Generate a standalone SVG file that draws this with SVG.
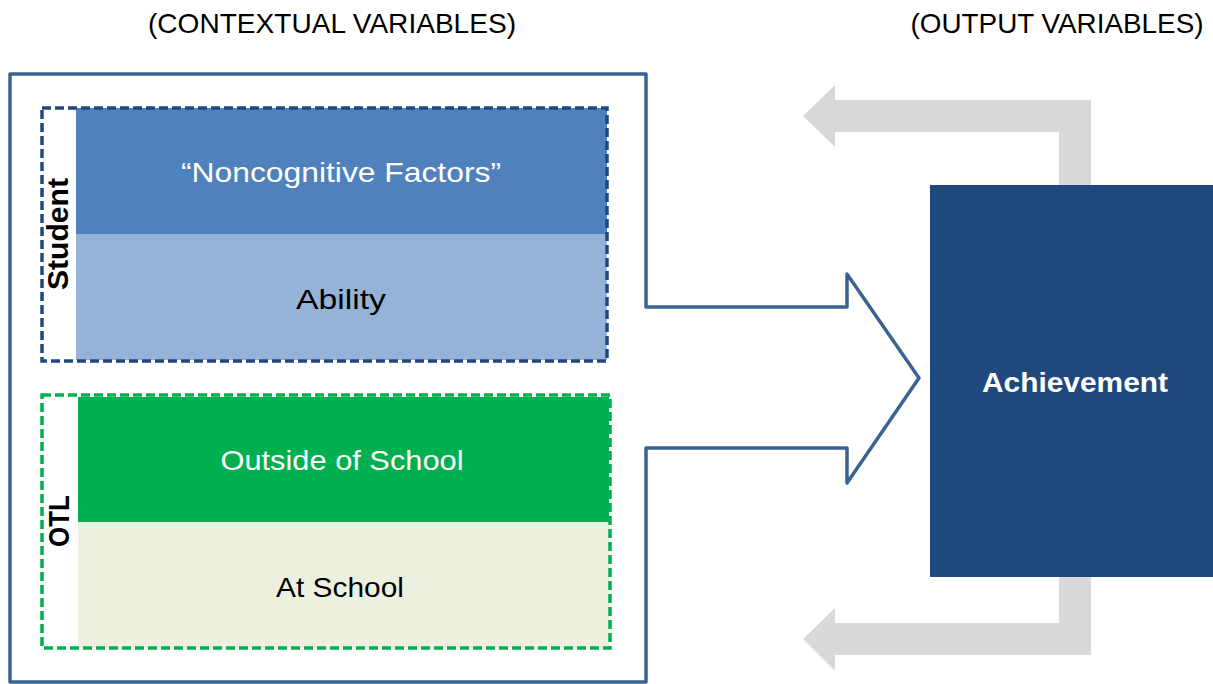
<svg xmlns="http://www.w3.org/2000/svg" width="1213" height="684" viewBox="0 0 1213 684">
  <style>
    .t { font-family: "Liberation Sans", Arial, sans-serif; font-size: 28.5px; text-anchor: middle; }
    .lab { font-size: 30px; }
    .b { font-weight: bold; }
    .w { fill: #FFFFFF; }
    .k { fill: #000000; }
    .grey { fill: #D9D9D9; }
  </style>
  <rect width="1213" height="684" fill="#FFFFFF"/>

  <g id="titles">
    <text class="t k" x="332" y="33" textLength="368" lengthAdjust="spacingAndGlyphs">(CONTEXTUAL VARIABLES)</text>
    <text class="t k" x="1057" y="33" textLength="293" lengthAdjust="spacingAndGlyphs">(OUTPUT VARIABLES)</text>
  </g>

  <g id="connectors">
    <path id="feedback-top" class="grey" d="M1091,186 V100 H835 V85 L803,116 L835,147 V132 H1059 V186 Z"/>
    <path id="feedback-bottom" class="grey" d="M1059,576 V623 H835 V608 L803,639 L835,671 V655 H1091 V576 Z"/>
    <path id="context-arrow" d="M10,74 H646 V307 H847 V274 L919,378 L847,483 V448 H646 V682 H10 Z" fill="none" stroke="#3A6394" stroke-width="3.5" stroke-linejoin="round"/>
  </g>

  <g id="student">
    <rect x="76" y="108" width="531" height="126" fill="#4F81BD"/>
    <rect x="76" y="234" width="531" height="126" fill="#95B3D7"/>
    <rect x="42" y="108" width="565" height="253" fill="none" stroke="#1F497D" stroke-width="3.5" stroke-dasharray="9 4"/>
    <text class="t w" x="341" y="182" textLength="320" lengthAdjust="spacingAndGlyphs">“Noncognitive Factors”</text>
    <text class="t k" x="341" y="309" textLength="90" lengthAdjust="spacingAndGlyphs">Ability</text>
    <text class="t k b lab" transform="translate(68,234) rotate(-90)" x="0" y="0" textLength="112" lengthAdjust="spacingAndGlyphs">Student</text>
  </g>

  <g id="otl">
    <rect x="78" y="397" width="531" height="125" fill="#00B050"/>
    <rect x="78" y="522" width="531" height="126" fill="#EBF1DE"/>
    <rect x="42" y="395" width="568" height="253" fill="none" stroke="#00B050" stroke-width="3.5" stroke-dasharray="9 4"/>
    <text class="t w" x="342" y="470" textLength="243" lengthAdjust="spacingAndGlyphs">Outside of School</text>
    <text class="t k" x="340" y="597" textLength="128" lengthAdjust="spacingAndGlyphs">At School</text>
    <text class="t k b lab" transform="translate(69,521) rotate(-90)" x="0" y="0" textLength="52" lengthAdjust="spacingAndGlyphs">OTL</text>
  </g>

  <g id="achievement">
    <rect x="930" y="185" width="283" height="392" fill="#1F497D"/>
    <text class="t w b" x="1075" y="392" textLength="186" lengthAdjust="spacingAndGlyphs">Achievement</text>
  </g>
</svg>
